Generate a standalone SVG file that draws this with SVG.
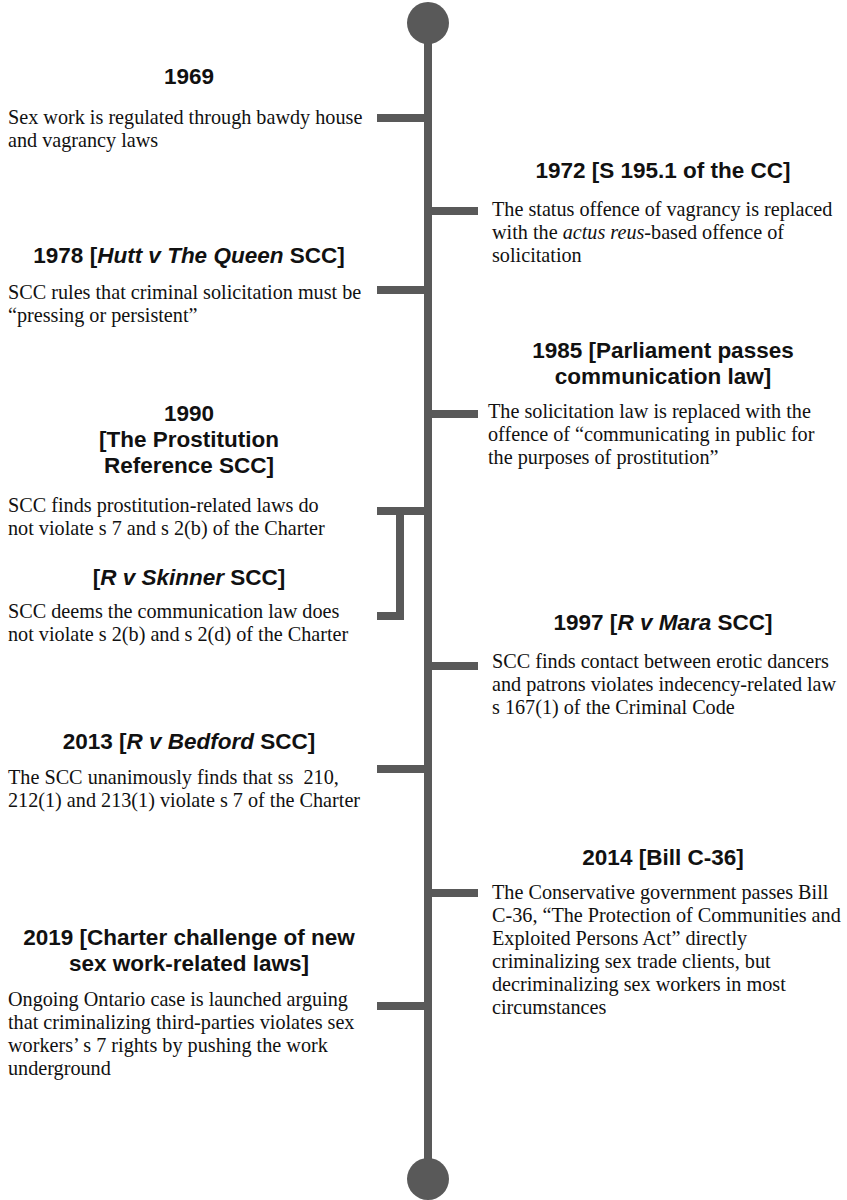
<svg xmlns="http://www.w3.org/2000/svg" width="847" height="1200" viewBox="0 0 847 1200">
<style>
.t{font-family:"Liberation Sans",Arial,sans-serif;font-weight:bold;font-size:22.5px;fill:#111;text-anchor:middle}
.b{font-family:"Liberation Serif","Times New Roman",serif;font-size:20.2px;fill:#111}
.ln{stroke:#595959;stroke-width:8;fill:none}
.dot{fill:#595959}
</style>
<rect width="847" height="1200" fill="#fff"/>
<g id="connectors">
<line class="ln" x1="428" y1="25" x2="428" y2="1178"/>
<line class="ln" x1="377" y1="118" x2="428" y2="118"/>
<line class="ln" x1="428" y1="211" x2="478" y2="211"/>
<line class="ln" x1="377" y1="290" x2="428" y2="290"/>
<line class="ln" x1="428" y1="414" x2="478" y2="414"/>
<line class="ln" x1="377" y1="511" x2="428" y2="511"/>
<polyline class="ln" points="400,511 400,616 377,616"/>
<line class="ln" x1="428" y1="666" x2="478" y2="666"/>
<line class="ln" x1="377" y1="769" x2="428" y2="769"/>
<line class="ln" x1="428" y1="893" x2="478" y2="893"/>
<line class="ln" x1="377" y1="1006" x2="428" y2="1006"/>
</g>
<g id="start"><circle class="dot" cx="428" cy="23" r="21"/></g>
<g id="end"><circle class="dot" cx="428" cy="1179" r="21"/></g>
<g id="e1969">
<text class="t" x="189" y="84">1969</text>
<text class="b" x="8" y="124">Sex work is regulated through bawdy house</text>
<text class="b" x="8" y="147">and vagrancy laws</text>
</g>
<g id="e1972">
<text class="t" x="663" y="178">1972 [S 195.1 of the CC]</text>
<text class="b" x="492" y="216">The status offence of vagrancy is replaced</text>
<text class="b" x="492" y="239">with the <tspan font-style="italic">actus reus</tspan>-based offence of</text>
<text class="b" x="492" y="262">solicitation</text>
</g>
<g id="e1978">
<text class="t" x="189" y="263">1978 [<tspan font-style="italic">Hutt v The Queen</tspan> SCC]</text>
<text class="b" x="8" y="299">SCC rules that criminal solicitation must be</text>
<text class="b" x="8" y="322">“pressing or persistent”</text>
</g>
<g id="e1985">
<text class="t" x="663" y="358">1985 [Parliament passes</text>
<text class="t" x="663" y="384">communication law]</text>
<text class="b" x="488" y="418">The solicitation law is replaced with the</text>
<text class="b" x="488" y="441">offence of “communicating in public for</text>
<text class="b" x="488" y="464">the purposes of prostitution”</text>
</g>
<g id="e1990">
<text class="t" x="189" y="421">1990</text>
<text class="t" x="189" y="447">[The Prostitution</text>
<text class="t" x="189" y="473">Reference SCC]</text>
<text class="b" x="8" y="512">SCC finds prostitution-related laws do</text>
<text class="b" x="8" y="535">not violate s 7 and s 2(b) of the Charter</text>
</g>
<g id="eSkinner">
<text class="t" x="189" y="585">[<tspan font-style="italic">R v Skinner</tspan> SCC]</text>
<text class="b" x="8" y="618">SCC deems the communication law does</text>
<text class="b" x="8" y="641">not violate s 2(b) and s 2(d) of the Charter</text>
</g>
<g id="e1997">
<text class="t" x="663" y="630">1997 [<tspan font-style="italic">R v Mara</tspan> SCC]</text>
<text class="b" x="492" y="668">SCC finds contact between erotic dancers</text>
<text class="b" x="492" y="691">and patrons violates indecency-related law</text>
<text class="b" x="492" y="714">s 167(1) of the Criminal Code</text>
</g>
<g id="e2013">
<text class="t" x="189" y="749">2013 [<tspan font-style="italic">R v Bedford</tspan> SCC]</text>
<text class="b" x="8" y="784" xml:space="preserve">The SCC unanimously finds that ss  210,</text>
<text class="b" x="8" y="807">212(1) and 213(1) violate s 7 of the Charter</text>
</g>
<g id="e2014">
<text class="t" x="663" y="865">2014 [Bill C-36]</text>
<text class="b" x="492" y="899">The Conservative government passes Bill</text>
<text class="b" x="492" y="922">C-36, “The Protection of Communities and</text>
<text class="b" x="492" y="945">Exploited Persons Act” directly</text>
<text class="b" x="492" y="968">criminalizing sex trade clients, but</text>
<text class="b" x="492" y="991">decriminalizing sex workers in most</text>
<text class="b" x="492" y="1014">circumstances</text>
</g>
<g id="e2019">
<text class="t" x="189" y="945">2019 [Charter challenge of new</text>
<text class="t" x="189" y="971">sex work-related laws]</text>
<text class="b" x="8" y="1006">Ongoing Ontario case is launched arguing</text>
<text class="b" x="8" y="1029">that criminalizing third-parties violates sex</text>
<text class="b" x="8" y="1052">workers’ s 7 rights by pushing the work</text>
<text class="b" x="8" y="1075">underground</text>
</g>
</svg>
